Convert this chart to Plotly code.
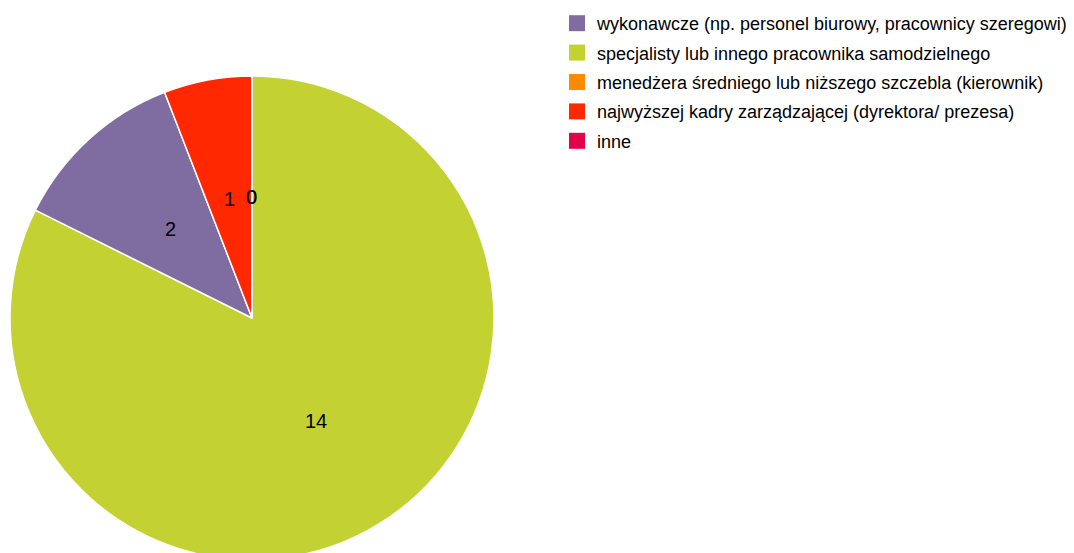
import math
import plotly.graph_objects as go

labels = [
    "wykonawcze (np. personel biurowy, pracownicy szeregowi)",
    "specjalisty lub innego pracownika samodzielnego",
    "menedżera średniego lub niższego szczebla (kierownik)",
    "najwyższej kadry zarządzającej (dyrektora/ prezesa)",
    "inne",
]
values = [2, 14, 0, 1, 0]
colors = ["#7F6DA1", "#C3D232", "#FF8A00", "#FF2800", "#E5004C"]

W, H = 1074, 636
ML, MR, MT, MB = 10, 0, 76, 76
PW, PH = W - ML - MR, H - MT - MB
R = PH / 2
dom_x = [0, PH / PW]

fig = go.Figure()
fig.add_trace(go.Pie(
    labels=labels,
    values=values,
    marker=dict(colors=colors, line=dict(color="white", width=1.5)),
    textinfo="none",
    sort=True,
    direction="clockwise",
    rotation=0,
    domain=dict(x=dom_x, y=[0, 1]),
    hoverinfo="label+value",
    showlegend=False,
))

# legend entries (original order)
for i, (lab, col) in enumerate(zip(labels, colors)):
    fig.add_trace(go.Scatter(
        x=[None], y=[None], mode="markers", name=lab,
        marker=dict(symbol="square", size=16, color=col),
        legendgroup=f"g{i}", showlegend=True, hoverinfo="skip",
    ))

# value labels at half radius, mid-angle of each slice (sorted descending, clockwise from top)
order = sorted(range(len(values)), key=lambda k: -values[k])
total = sum(values)
cx = (dom_x[0] + dom_x[1]) / 2
cum = 0
for k in order:
    mid = (cum + values[k] / 2) / total * 2 * math.pi
    cum += values[k]
    r = 0.5 * R
    fig.add_annotation(
        x=cx + r * math.sin(mid) / PW,
        y=0.5 + r * math.cos(mid) / PH,
        xref="paper", yref="paper",
        text=str(values[k]), showarrow=False,
        font=dict(family="Liberation Sans, Arial", size=20, color="black"),
        xanchor="center", yanchor="middle",
    )

fig.update_layout(
    width=W,
    height=H,
    autosize=False,
    margin=dict(l=ML, r=MR, t=MT, b=MB),
    paper_bgcolor="white",
    plot_bgcolor="white",
    font=dict(family="Liberation Sans, Arial", size=18, color="black"),
    xaxis=dict(visible=False),
    yaxis=dict(visible=False),
    legend=dict(
        x=(557 - ML) / PW, y=1 + (MT - 5) / PH, xanchor="left", yanchor="top",
        traceorder="grouped",
        tracegroupgap=3,
        font=dict(size=18),
        itemsizing="trace",
    ),
    showlegend=True,
)

fig.write_html(
    "out.html",
    config={"displayModeBar": False},
    post_script="document.body.style.margin='0';document.body.style.overflow='hidden';",
)
